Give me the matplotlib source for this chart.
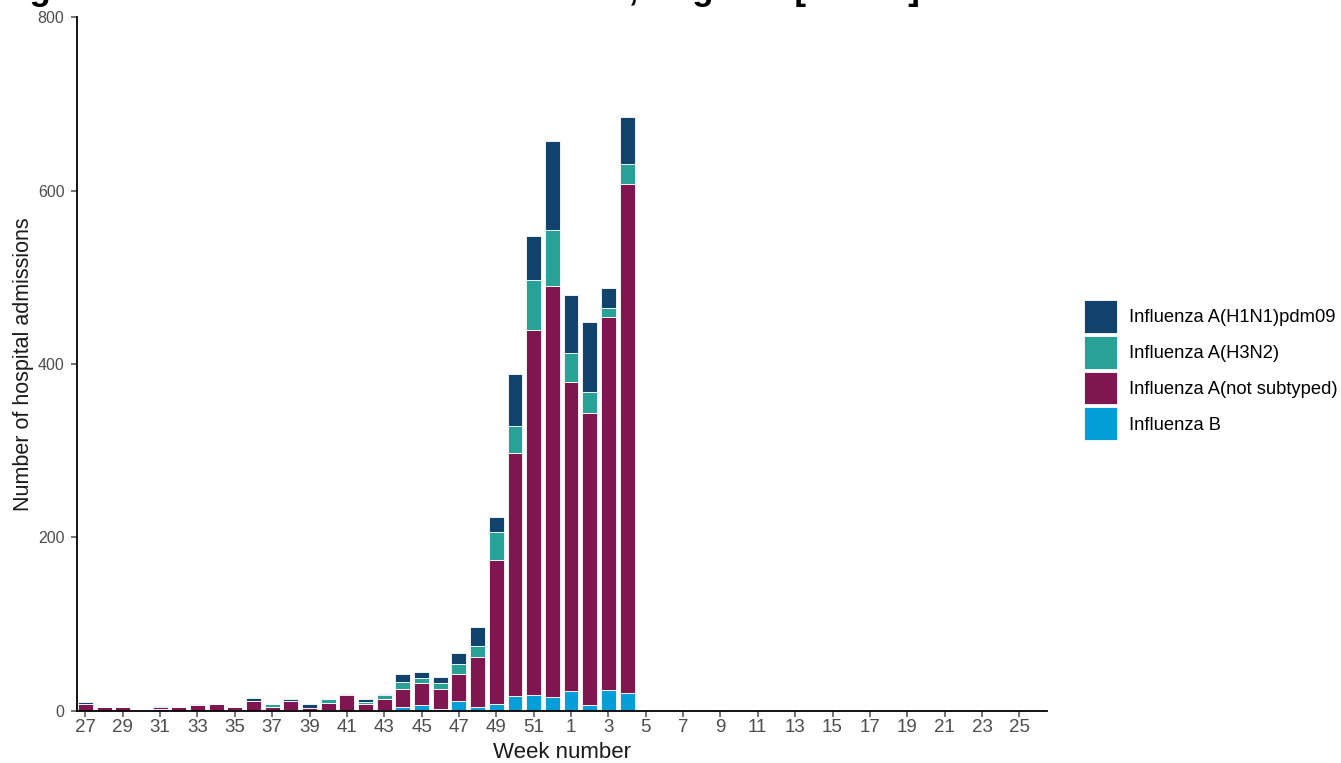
import matplotlib
matplotlib.use("Agg")
import matplotlib.pyplot as plt
import numpy as np

plt.rcParams['font.family'] = ['Liberation Sans', 'DejaVu Sans']

weeks = list(range(27, 53)) + list(range(1, 27))

h1n1 = [2, 0, 0, 0, 1, 0, 1, 0, 0, 4, 0, 2, 5, 0, 1, 4, 2, 10, 7, 7, 13, 22, 18,
        59, 51, 102, 67, 80, 23, 54]
h3n2 = [0, 0, 0, 0, 0, 0, 0, 0, 0, 0, 3, 0, 0, 5, 0, 2, 4, 8, 6, 7, 11, 13, 32,
        32, 58, 65, 34, 25, 11, 24]
a_notsub = [8, 4, 4, 0, 3, 5, 7, 8, 3, 11, 5, 11, 3, 8, 18, 8, 13, 20, 25, 23, 32, 58, 166,
            280, 421, 474, 356, 336, 430, 586]
flu_b = [0, 0, 0, 0, 2, 0, 0, 0, 1, 0, 0, 1, 0, 1, 0, 0, 1, 5, 7, 2, 11, 4, 8,
         17, 18, 16, 23, 7, 24, 21]

series = [
    ("Influenza B", flu_b, "#049FD9"),
    ("Influenza A(not subtyped)", a_notsub, "#801650"),
    ("Influenza A(H3N2)", h3n2, "#28A197"),
    ("Influenza A(H1N1)pdm09", h1n1, "#12436D"),
]

fig = plt.figure(figsize=(13.41, 7.63), dpi=100)
ax = fig.add_axes([0.0574, 0.0682, 0.7236, 0.9095])

n = len(h1n1)
x = np.arange(n)
bottom = np.zeros(n)
handles = {}
for name, vals, col in series:
    v = np.array(vals, dtype=float)
    b = ax.bar(x, v, bottom=bottom, width=0.8, color=col, edgecolor="white",
               linewidth=0.6, label=name)
    handles[name] = b
    bottom += v

ax.set_xlim(-0.45, len(weeks) - 0.5)
ax.set_ylim(0, 800)
ax.set_yticks([0, 200, 400, 600, 800])
xt = np.arange(0, len(weeks), 2)
ax.set_xticks(xt)
ax.set_xticklabels([str(weeks[i]) for i in xt])

for s in ["top", "right"]:
    ax.spines[s].set_visible(False)
for s in ["left", "bottom"]:
    ax.spines[s].set_linewidth(1.3)
    ax.spines[s].set_color("black")

ax.tick_params(axis="y", labelsize=11.5, colors="#4D4D4D", length=4, width=1.1, pad=5)
ax.tick_params(axis="x", labelsize=13.5, colors="#4D4D4D", length=4, width=1.1, pad=2)
for t in ax.get_xticklines() + ax.get_yticklines():
    t.set_color("#333333")

ax.set_xlabel("Week number", fontsize=16, color="#1a1a1a", labelpad=4)
ax.set_ylabel("Number of hospital admissions", fontsize=15.5, color="#1a1a1a", labelpad=3)

order = ["Influenza A(H1N1)pdm09", "Influenza A(H3N2)", "Influenza A(not subtyped)", "Influenza B"]
fig.legend([handles[k] for k in order], order, loc="center left",
           bbox_to_anchor=(0.808, 0.515), frameon=False, fontsize=13.2,
           handlelength=1.8, handleheight=2.39, labelspacing=0.16,
           handletextpad=0.7, borderpad=0, borderaxespad=0)

fig.text(0.686, 0.9995,
         "Weekly hospital admissions for influenza through SARI Watch sentinel surveillance, England [note 6]",
         ha="right", va="baseline", fontsize=25, fontweight="bold", color="black")

fig.savefig("out.png", dpi=100)
